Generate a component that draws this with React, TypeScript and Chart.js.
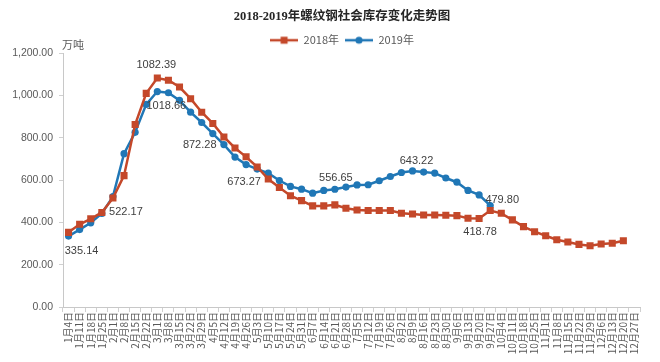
import React, { useEffect, useRef } from 'react';
import { Chart, registerables } from 'chart.js';

Chart.register(...registerables);

const categories = [
  '1月4日', '1月11日', '1月18日', '1月25日', '2月1日', '2月8日', '2月15日', '2月22日',
  '3月1日', '3月8日', '3月15日', '3月22日', '3月29日', '4月5日', '4月12日', '4月19日',
  '4月26日', '5月3日', '5月10日', '5月17日', '5月24日', '5月31日', '6月7日', '6月14日',
  '6月21日', '6月28日', '7月5日', '7月12日', '7月19日', '7月26日', '8月2日', '8月9日',
  '8月16日', '8月23日', '8月30日', '9月6日', '9月13日', '9月20日', '9月27日', '10月4日',
  '10月11日', '10月18日', '10月25日', '11月1日', '11月8日', '11月15日', '11月22日', '11月29日',
  '12月6日', '12月13日', '12月20日', '12月27日',
];

const stock2018: (number | null)[] = [
  353, 391, 417, 447, 515, 621, 863, 1010, 1082.39, 1072,
  1040, 985, 921, 868, 804, 752, 710, 662, 605, 565,
  526, 503, 478, 478, 483, 467, 459, 456, 456, 456,
  443, 440, 435, 435, 434, 432, 420, 418.78, 456, 443,
  412, 380, 356, 337, 318, 307, 296, 290, 298, 301,
  313, null,
];

const stock2019: (number | null)[] = [
  335.14, 366, 398, 442, 522.17, 725, 826, 958, 1018.66, 1013,
  977, 921, 872.28, 820, 768, 709, 673.27, 652, 633, 598,
  570, 557, 538, 551, 556.65, 567, 577, 578, 597, 617,
  636, 643.22, 638, 633, 610, 590, 551, 530, 479.8, null,
  null, null, null, null, null, null, null, null, null, null,
  null, null,
];

const seriesNames = ['2018年', '2019年'];
const chartTitle = '2018-2019年螺纹钢社会库存变化走势图';
const unitLabel = '万吨';
const yMin = 0;
const yMax = 1200;
const yStep = 200;

// which points carry a value label: [series, category index]
const labelledPoints: [number, number][] = [
  [0, 8], [1, 8], [1, 12], [1, 16], [1, 24], [1, 31], [1, 38], [0, 37], [1, 0], [1, 4],
];

// label offsets (style) relative to the point, keyed "series-index"
const labelOffsets: Record<string, [number, number]> = {
  '0-8': [-1, -13],
  '1-8': [9, 14],
  '1-12': [-2, 22],
  '1-16': [-2, 17],
  '1-24': [1, -11],
  '1-31': [4, -10],
  '1-38': [12, -6],
  '0-37': [1, 14],
  '1-0': [13, 15],
  '1-4': [13, 15],
};

const RED = '#C4482A';
const BLUE = '#2077B6';
const SANS = "'Liberation Sans', 'Noto Sans CJK SC', sans-serif";
const CJK = "'Noto Sans CJK SC', 'Liberation Sans', sans-serif";
const SERIF = "'Liberation Serif', 'Noto Sans CJK SC', serif";

// canvas is a bit wider than the visible window so that title / legend centre where the original does
const CANVAS_W = 684;
const CANVAS_H = 362;

function legendSwatch(color: string, shape: 'rect' | 'circle'): HTMLCanvasElement {
  const c = document.createElement('canvas');
  c.width = 28;
  c.height = 10;
  const ctx = c.getContext('2d')!;
  ctx.strokeStyle = color;
  ctx.fillStyle = color;
  ctx.lineWidth = 2.5;
  ctx.beginPath();
  ctx.moveTo(0, 5);
  ctx.lineTo(28, 5);
  ctx.stroke();
  ctx.beginPath();
  if (shape === 'rect') {
    ctx.rect(10.5, 1.5, 7, 7);
  } else {
    ctx.arc(14, 5, 3.6, 0, Math.PI * 2);
  }
  ctx.fill();
  return c;
}

const fmt = (v: number) =>
  v.toLocaleString('en-US', { minimumFractionDigits: 2, maximumFractionDigits: 2 });

export default function App() {
  const ref = useRef<HTMLCanvasElement | null>(null);

  useEffect(() => {
    document.body.style.margin = '0';
    document.body.style.overflow = 'hidden';
    const canvas = ref.current;
    if (!canvas) return;

    const swatches = [legendSwatch(RED, 'rect'), legendSwatch(BLUE, 'circle')];

    const valueLabels = {
      id: 'valueLabels',
      afterDatasetsDraw(chart: any) {
        const ctx = chart.ctx;
        ctx.save();
        ctx.font = `11px ${SANS}`;
        ctx.fillStyle = '#404040';
        ctx.textAlign = 'center';
        ctx.textBaseline = 'middle';
        labelledPoints.forEach(([s, i]) => {
          const el = chart.getDatasetMeta(s).data[i];
          const val = chart.data.datasets[s].data[i];
          if (!el || val == null) return;
          const [dx, dy] = labelOffsets[`${s}-${i}`] || [0, -10];
          ctx.fillText(Number(val).toFixed(2), el.x + dx, el.y + dy);
        });
        ctx.restore();
      },
    };

    const unitText = {
      id: 'unitText',
      afterDraw(chart: any) {
        const ctx = chart.ctx;
        const area = chart.chartArea;
        ctx.save();
        ctx.font = `11px ${CJK}`;
        ctx.fillStyle = '#595959';
        ctx.textAlign = 'left';
        ctx.textBaseline = 'middle';
        ctx.fillText(unitLabel, area.left - 1, area.top - 8);
        ctx.restore();
      },
    };

    const chart = new Chart(canvas, {
      type: 'line',
      data: {
        labels: categories,
        datasets: [
          {
            label: seriesNames[0],
            data: stock2018,
            borderColor: RED,
            backgroundColor: RED,
            borderWidth: 2.5,
            pointStyle: 'rect',
            pointRadius: 5,
            pointBorderWidth: 0,
            pointBackgroundColor: RED,
            tension: 0,
          },
          {
            label: seriesNames[1],
            data: stock2019,
            borderColor: BLUE,
            backgroundColor: BLUE,
            borderWidth: 2.5,
            pointStyle: 'circle',
            pointRadius: 3.6,
            pointBorderWidth: 0,
            pointBackgroundColor: BLUE,
            tension: 0,
          },
        ],
      },
      options: {
        animation: false,
        responsive: false,
        maintainAspectRatio: false,
        layout: { padding: { top: 0, left: 0, right: 0, bottom: 0 } },
        plugins: {
          title: {
            display: true,
            text: chartTitle,
            color: '#262626',
            font: { family: SERIF, size: 12.5, weight: 'bold' },
            padding: { top: 9.5, bottom: 4.2 },
          },
          legend: {
            display: true,
            maxHeight: 24.5,
            labels: {
              usePointStyle: true,
              pointStyleWidth: 28,
              padding: 6,
              color: '#595959',
              font: { family: CJK, size: 11 },
              generateLabels(ch: any) {
                const base = Chart.defaults.plugins.legend.labels.generateLabels(ch);
                return base.map((item: any, k: number) => ({
                  ...item,
                  pointStyle: swatches[k],
                  fillStyle: k === 0 ? RED : BLUE,
                  strokeStyle: k === 0 ? RED : BLUE,
                  lineWidth: 0,
                }));
              },
            },
          },
          tooltip: { enabled: false },
        },
        scales: {
          x: {
            type: 'category',
            offset: true,
            grid: {
              display: true,
              drawOnChartArea: false,
              offset: true,
              tickLength: 5,
              color: '#D0D0D0',
            },
            border: { color: '#C8C8C8' },
            ticks: {
              autoSkip: false,
              minRotation: 90,
              maxRotation: 90,
              padding: 0,
              color: '#595959',
              font: { family: CJK, size: 10 },
            },
            afterFit: (s: any) => {
              s.height = 55;
            },
          },
          y: {
            min: yMin,
            max: yMax,
            ticks: {
              stepSize: yStep,
              padding: 6,
              color: '#595959',
              font: { family: SANS, size: 10.5 },
              callback: (v: any) => fmt(Number(v)),
            },
            grid: {
              display: true,
              drawOnChartArea: false,
              tickLength: 4,
              color: '#D0D0D0',
            },
            border: { color: '#C8C8C8' },
            afterFit: (s: any) => {
              s.width = 63;
            },
          },
          yRightSpacer: {
            type: 'linear',
            position: 'right',
            display: true,
            min: yMin,
            max: yMax,
            grid: { display: false },
            border: { display: false },
            ticks: { display: false },
            afterFit: (s: any) => {
              s.width = CANVAS_W - 640;
            },
          },
        },
      },
      plugins: [valueLabels, unitText],
    } as any);

    return () => chart.destroy();
  }, []);

  return (
    <div style={{ width: 660, height: CANVAS_H, overflow: 'hidden', background: '#fff' }}>
      <canvas ref={ref} width={CANVAS_W} height={CANVAS_H} style={{ display: 'block' }} />
    </div>
  );
}
